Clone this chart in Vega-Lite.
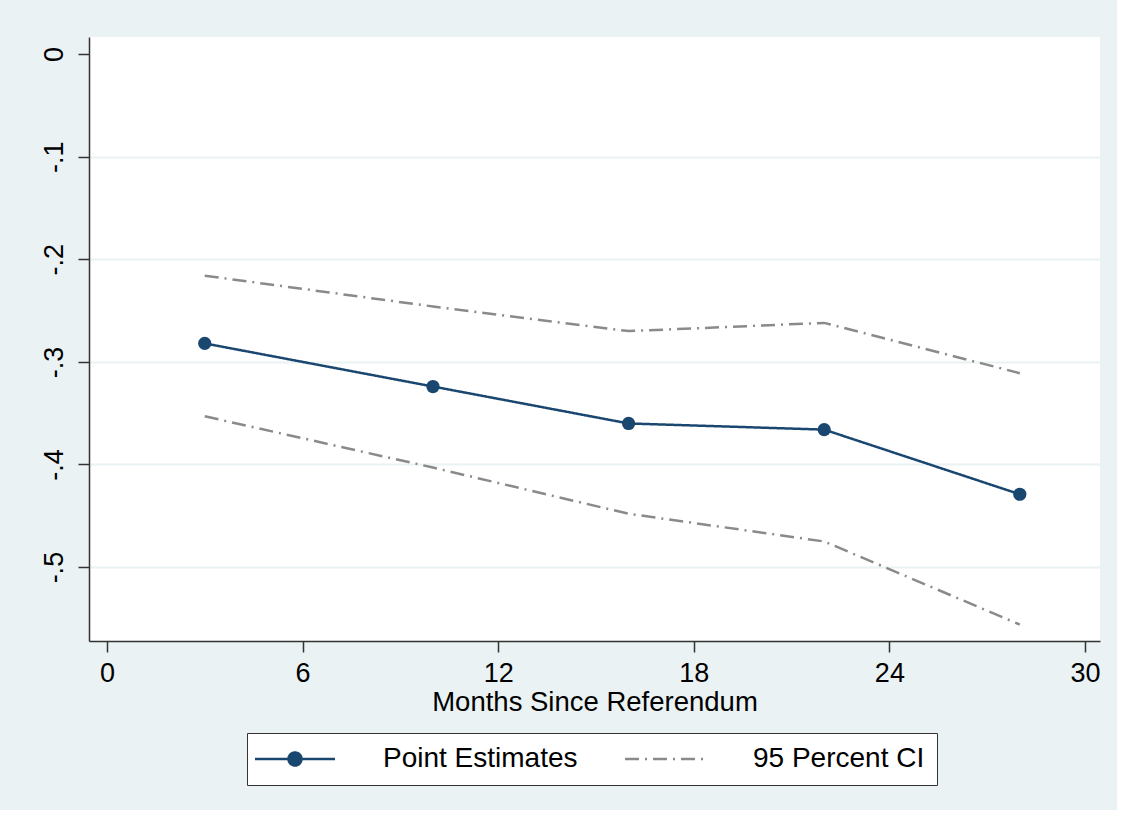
{
  "$schema": "https://vega.github.io/schema/vega-lite/v6.json",
  "width": 1011,
  "height": 604,
  "autosize": {"type": "none"},
  "padding": {"left": 89, "top": 37, "right": 17, "bottom": 169},
  "background": "#EAF2F3",
  "config": {
    "view": {"fill": "white", "stroke": null},
    "font": "Liberation Sans",
    "axis": {
      "labelFont": "Liberation Sans",
      "labelFontSize": 27,
      "labelColor": "black",
      "titleFont": "Liberation Sans",
      "titleFontSize": 27.5,
      "titleFontWeight": "normal",
      "titleColor": "black",
      "domainColor": "#333333",
      "domainWidth": 1.5,
      "tickColor": "#333333",
      "tickWidth": 1.5,
      "tickSize": 11,
      "gridColor": "#EAF2F3",
      "gridWidth": 2
    }
  },
  "data": {
    "values": [
      {"x": 3, "y": -0.282, "line": "PE", "series": "Point Estimates"},
      {"x": 10, "y": -0.324, "line": "PE", "series": "Point Estimates"},
      {"x": 16, "y": -0.360, "line": "PE", "series": "Point Estimates"},
      {"x": 22, "y": -0.366, "line": "PE", "series": "Point Estimates"},
      {"x": 28, "y": -0.429, "line": "PE", "series": "Point Estimates"},
      {"x": 3, "y": -0.216, "line": "Upper", "series": "95 Percent CI"},
      {"x": 10, "y": -0.246, "line": "Upper", "series": "95 Percent CI"},
      {"x": 16, "y": -0.270, "line": "Upper", "series": "95 Percent CI"},
      {"x": 22, "y": -0.262, "line": "Upper", "series": "95 Percent CI"},
      {"x": 28, "y": -0.311, "line": "Upper", "series": "95 Percent CI"},
      {"x": 3, "y": -0.353, "line": "Lower", "series": "95 Percent CI"},
      {"x": 10, "y": -0.403, "line": "Lower", "series": "95 Percent CI"},
      {"x": 16, "y": -0.448, "line": "Lower", "series": "95 Percent CI"},
      {"x": 22, "y": -0.475, "line": "Lower", "series": "95 Percent CI"},
      {"x": 28, "y": -0.556, "line": "Lower", "series": "95 Percent CI"}
    ]
  },
  "encoding": {
    "x": {
      "field": "x",
      "type": "quantitative",
      "scale": {"domain": [-0.55, 30.46], "nice": false, "zero": false},
      "axis": {
        "values": [0, 6, 12, 18, 24, 30],
        "title": "Months Since Referendum",
        "grid": false,
        "labelPadding": 8,
        "titlePadding": 2,
        "labelFlush": false,
        "labelOverlap": false
      }
    },
    "y": {
      "field": "y",
      "type": "quantitative",
      "scale": {"domain": [-0.572, 0.0166], "nice": false, "zero": false},
      "axis": {
        "values": [0, -0.1, -0.2, -0.3, -0.4, -0.5],
        "title": null,
        "grid": true,
        "gridOpacity": {"condition": {"test": "datum.value === 0", "value": 0}, "value": 1},
        "labelAngle": -90,
        "labelAlign": "center",
        "labelBaseline": "bottom",
        "labelPadding": 10,
        "labelFlush": false,
        "labelOverlap": false,
        "labelExpr": "datum.value === 0 ? '0' : '-' + replace(format(abs(datum.value), '.1f'), '0.', '.')"
      }
    }
  },
  "layer": [
    {
      "mark": {"type": "line", "strokeWidth": 2.5},
      "encoding": {
        "color": {
          "field": "series",
          "type": "nominal",
          "scale": {"domain": ["Point Estimates", "95 Percent CI"], "range": ["#1a476f", "#8a8a8a"]},
          "legend": {
            "title": null,
            "orient": "none",
            "legendX": 158,
            "legendY": 696,
            "direction": "horizontal",
            "fillColor": "white",
            "strokeColor": "#333333",
            "padding": 12,
            "symbolType": "M-4,0H4",
            "symbolSize": 400,
            "symbolStrokeWidth": 2.5,
            "symbolOffset": 22,
            "labelOffset": 74,
            "labelLimit": 0,
            "columnPadding": 42,
            "labelFont": "Liberation Sans",
            "labelFontSize": 28,
            "labelColor": "black",
            "encode": {
              "symbols": {
                "update": {
                  "shape": {"signal": "datum.value === 'Point Estimates' ? 'M-4,0H4M-0.65,0A0.65,0.65 0 1,0 0.65,0A0.65,0.65 0 1,0 -0.65,0' : 'M-4,0H4'"},
                  "strokeDash": {"signal": "datum.value === 'Point Estimates' ? [1, 0] : [12, 5, 2, 5]"},
                  "fill": {"signal": "datum.value === 'Point Estimates' ? '#1a476f' : 'transparent'"},
                  "fillOpacity": {"value": 1},
                  "opacity": {"value": 1}
                }
              }
            }
          }
        },
        "strokeDash": {
          "field": "series",
          "type": "nominal",
          "scale": {"domain": ["Point Estimates", "95 Percent CI"], "range": [[1, 0], [14, 6, 2, 6]]},
          "legend": null
        },
        "detail": {"field": "line"},
        "order": {"field": "x"}
      }
    },
    {
      "transform": [{"filter": "datum.series === 'Point Estimates'"}],
      "mark": {"type": "point", "filled": true, "size": 175, "color": "#1a476f", "opacity": 1}
    }
  ]
}
